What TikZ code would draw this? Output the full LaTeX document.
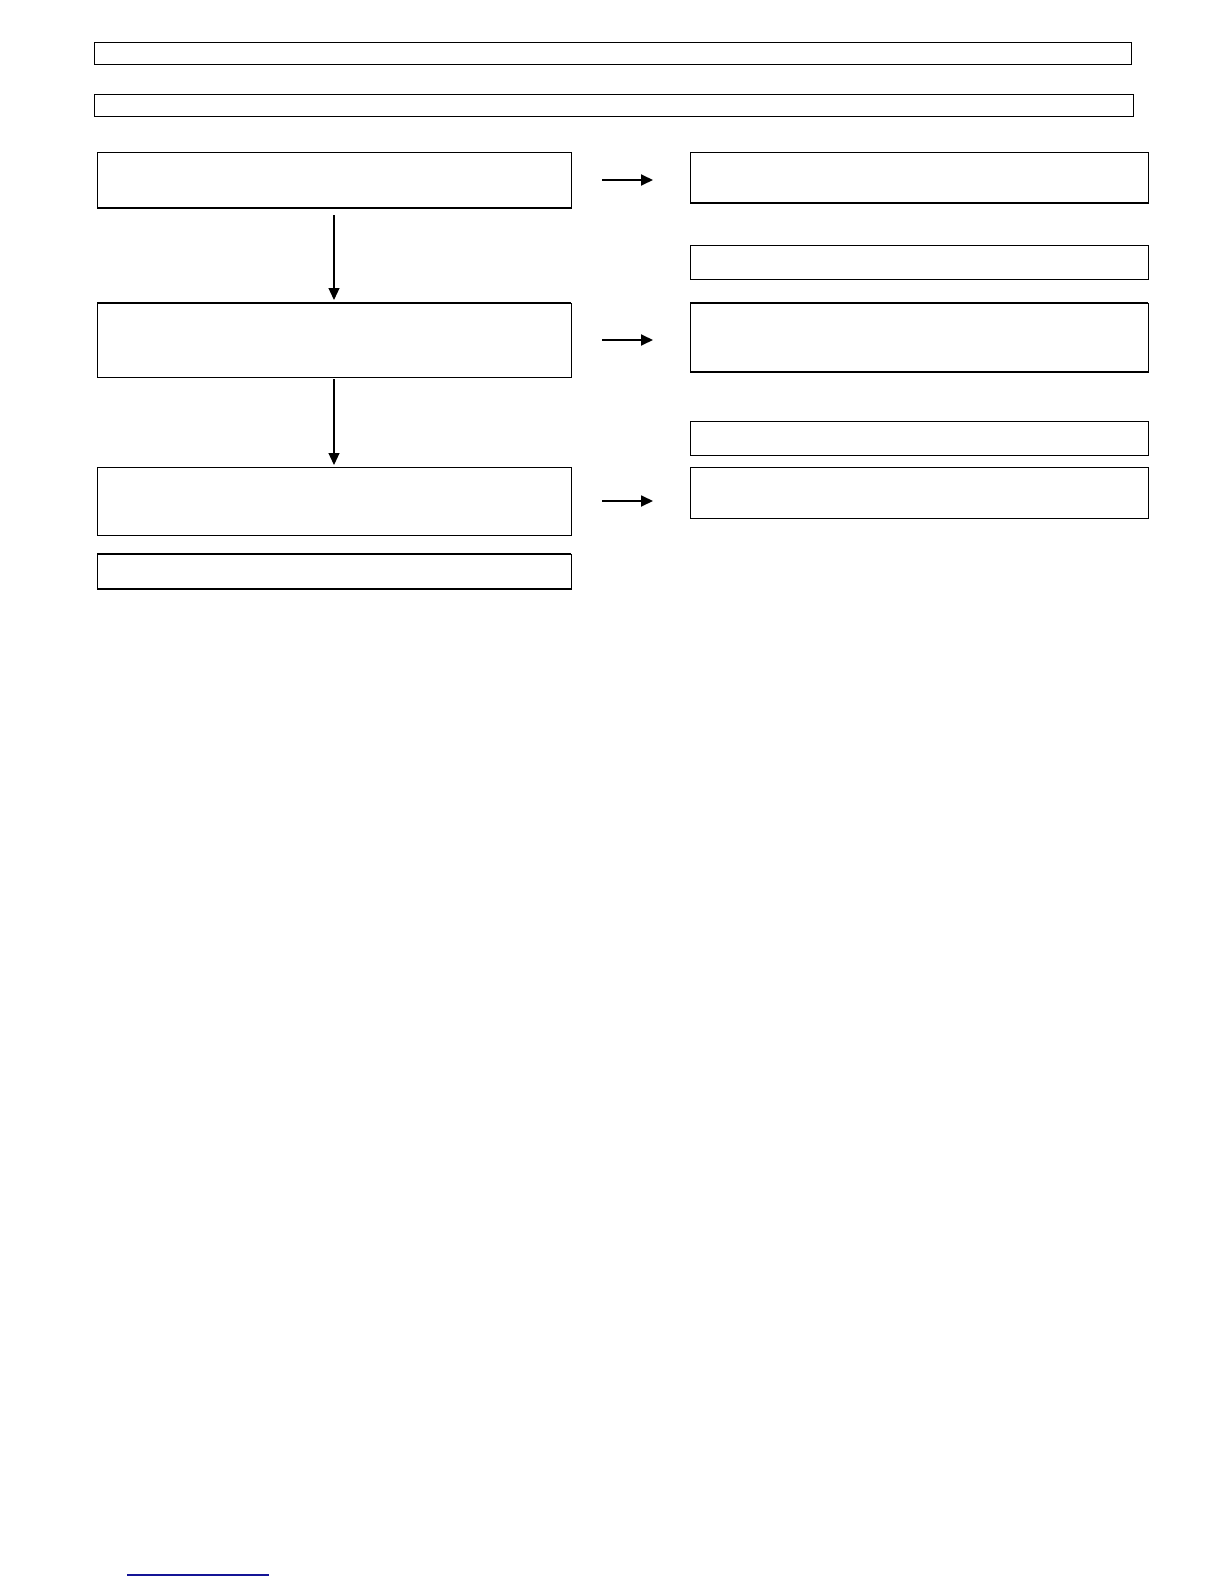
\documentclass[tikz,border=0pt]{standalone}
\usepackage{tikz}
\usetikzlibrary{arrows.meta}
\definecolor{linkblue}{RGB}{20,20,150}

\begin{document}
\begin{tikzpicture}[x=0.5pt,y=-0.5pt,
	every node/.style={draw,rectangle,line width=0.5pt,inner sep=0pt,outer sep=0pt},
	wide/.style={minimum width=237pt},
	side/.style={minimum width=229pt},
	arr/.style={line width=0.6pt,-{Triangle[length=6pt,width=5.5pt]}},
	harr/.style={arr,line width=0.9pt},
	edge/.style={line width=1.1pt}]
	\useasboundingbox (0,0) rectangle (1224,1584);

	%header bars
	\node[minimum width=518.5pt,minimum height=11pt] (head) at (612.5,54){};
	\node[minimum width=519.5pt,minimum height=11pt] (sub) at (613.5,106){};

	%left column
	\node[wide,minimum height=28pt] (a) at (334,180){};
	\node[wide,minimum height=37pt] (b) at (334,340){};
	\node[wide,minimum height=34pt] (c) at (334,501){};
	\node[wide,minimum height=17.5pt] (d) at (334,571.5){};

	%right column
	\node[side,minimum height=25.5pt] (r1) at (919,177.5){};
	\node[side,minimum height=17pt] (r2) at (919,262){};
	\node[side,minimum height=34.5pt] (r3) at (919,337.5){};
	\node[side,minimum height=17pt] (r4) at (919,438){};
	\node[side,minimum height=25.5pt] (r5) at (919,492.5){};

	%heavier edges
	\draw[edge] (a.south west) -- (a.south east);
	\draw[edge] (b.north west) -- (b.north east);
	\draw[edge] (d.north west) -- (d.north east);
	\draw[edge] (d.south west) -- (d.south east);
	\draw[edge] (r1.south west) -- (r1.south east);
	\draw[edge] (r3.north west) -- (r3.north east);
	\draw[edge] (r3.south west) -- (r3.south east);

	%arrows
	\draw[arr,shorten <=3.5pt,shorten >=1.5pt] (a) -- (b);
	\draw[arr,shorten <=1pt,shorten >=1pt] (b) -- (c);
	\draw[harr,shorten <=15.5pt,shorten >=18.5pt] (a.east) -- (a.east -| r1.west);
	\draw[harr,shorten <=15.5pt,shorten >=18.5pt] (b.east) -- (b.east -| r3.west);
	\draw[harr,shorten <=15.5pt,shorten >=18.5pt] (c.east) -- (c.east -| r5.west);

	%link line
	\draw[linkblue,line width=0.6pt] (127,1575) -- (269,1575);
\end{tikzpicture}
\end{document}
